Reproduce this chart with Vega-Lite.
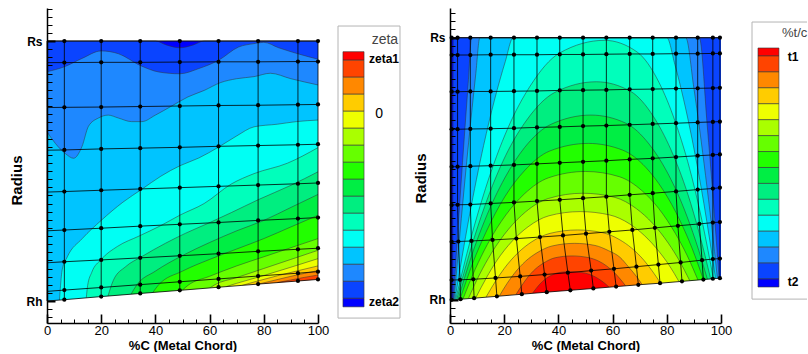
{
"$schema": "https://vega.github.io/schema/vega-lite/v6.json",
"background": "white",
"padding": {"left": 9, "top": 2, "right": 0, "bottom": 0},
"config": {"view": {"stroke": null}, "font": "Liberation Sans"},
"datasets": {
"hub": [{"x":0,"y":0},{"x":100,"y":0.083}],
"contL": [
{"l":"a","x":0,"y":1},{"l":"a","x":100,"y":1},
{"l":"b","x":0,"y":1},{"l":"b","x":40,"y":1},{"l":"b","x":44,"y":0.985},{"l":"b","x":49,"y":0.974},{"l":"b","x":54,"y":0.985},{"l":"b","x":58,"y":1},{"l":"b","x":100,"y":1},
{"l":"c","x":0,"y":0.882},{"l":"c","x":6.4,"y":0.901},{"l":"c","x":12.9,"y":0.933},{"l":"c","x":20,"y":0.962},{"l":"c","x":26.4,"y":0.951},{"l":"c","x":34.4,"y":0.906},{"l":"c","x":41.2,"y":0.881},{"l":"c","x":49,"y":0.874},{"l":"c","x":56,"y":0.894},{"l":"c","x":63.3,"y":0.926},{"l":"c","x":70.7,"y":0.977},{"l":"c","x":76.4,"y":0.99},{"l":"c","x":80,"y":0.995},{"l":"c","x":85.5,"y":0.974},{"l":"c","x":92.9,"y":0.95},{"l":"c","x":100,"y":0.93},
{"l":"d","x":0,"y":0.651},{"l":"d","x":3.1,"y":0.606},{"l":"d","x":6.8,"y":0.567},{"l":"d","x":9.8,"y":0.549},{"l":"d","x":12.9,"y":0.594},{"l":"d","x":15.3,"y":0.672},{"l":"d","x":19,"y":0.704},{"l":"d","x":22.6,"y":0.715},{"l":"d","x":26.3,"y":0.704},{"l":"d","x":31.2,"y":0.69},{"l":"d","x":35,"y":0.69},{"l":"d","x":40,"y":0.715},{"l":"d","x":46,"y":0.75},{"l":"d","x":52,"y":0.785},{"l":"d","x":58,"y":0.81},{"l":"d","x":64,"y":0.84},{"l":"d","x":70,"y":0.855},{"l":"d","x":76.4,"y":0.863},{"l":"d","x":82.4,"y":0.876},{"l":"d","x":90,"y":0.855},{"l":"d","x":100,"y":0.831},
{"l":"e","x":4.6,"y":0.004},{"l":"e","x":5,"y":0.06},{"l":"e","x":5.6,"y":0.12},{"l":"e","x":7.5,"y":0.17},{"l":"e","x":13,"y":0.24},{"l":"e","x":20,"y":0.31},{"l":"e","x":28,"y":0.38},{"l":"e","x":35,"y":0.43},{"l":"e","x":42,"y":0.48},{"l":"e","x":49,"y":0.52},{"l":"e","x":56,"y":0.55},{"l":"e","x":63,"y":0.59},{"l":"e","x":70,"y":0.635},{"l":"e","x":76.4,"y":0.67},{"l":"e","x":85,"y":0.68},{"l":"e","x":92,"y":0.69},{"l":"e","x":100,"y":0.696},
{"l":"f","x":14.5,"y":0.012},{"l":"f","x":15,"y":0.06},{"l":"f","x":16.5,"y":0.11},{"l":"f","x":20,"y":0.16},{"l":"f","x":26,"y":0.21},{"l":"f","x":34,"y":0.25},{"l":"f","x":42,"y":0.29},{"l":"f","x":49,"y":0.33},{"l":"f","x":58,"y":0.375},{"l":"f","x":68,"y":0.45},{"l":"f","x":76.4,"y":0.49},{"l":"f","x":88.7,"y":0.53},{"l":"f","x":100,"y":0.59},
{"l":"g","x":22.5,"y":0.019},{"l":"g","x":24.5,"y":0.08},{"l":"g","x":29,"y":0.132},{"l":"g","x":35,"y":0.171},{"l":"g","x":43.7,"y":0.222},{"l":"g","x":51,"y":0.26},{"l":"g","x":59.7,"y":0.3},{"l":"g","x":68,"y":0.34},{"l":"g","x":78,"y":0.39},{"l":"g","x":90,"y":0.445},{"l":"g","x":100,"y":0.497},
{"l":"h","x":31,"y":0.026},{"l":"h","x":33,"y":0.06},{"l":"h","x":40,"y":0.115},{"l":"h","x":50,"y":0.175},{"l":"h","x":60,"y":0.225},{"l":"h","x":70,"y":0.27},{"l":"h","x":80,"y":0.31},{"l":"h","x":90,"y":0.36},{"l":"h","x":100,"y":0.41},
{"l":"i","x":39,"y":0.032},{"l":"i","x":41,"y":0.06},{"l":"i","x":50,"y":0.115},{"l":"i","x":60,"y":0.16},{"l":"i","x":70,"y":0.2},{"l":"i","x":80,"y":0.24},{"l":"i","x":90,"y":0.285},{"l":"i","x":100,"y":0.33},
{"l":"j","x":50,"y":0.042},{"l":"j","x":52,"y":0.06},{"l":"j","x":60,"y":0.095},{"l":"j","x":70,"y":0.135},{"l":"j","x":80,"y":0.17},{"l":"j","x":90,"y":0.205},{"l":"j","x":100,"y":0.24},
{"l":"k","x":60,"y":0.05},{"l":"k","x":62,"y":0.063},{"l":"k","x":70,"y":0.09},{"l":"k","x":80,"y":0.125},{"l":"k","x":90,"y":0.16},{"l":"k","x":100,"y":0.195},
{"l":"l","x":66,"y":0.055},{"l":"l","x":70,"y":0.068},{"l":"l","x":80,"y":0.098},{"l":"l","x":90,"y":0.13},{"l":"l","x":100,"y":0.163},
{"l":"m","x":72,"y":0.06},{"l":"m","x":76,"y":0.072},{"l":"m","x":85,"y":0.097},{"l":"m","x":92,"y":0.115},{"l":"m","x":100,"y":0.135},
{"l":"n","x":78,"y":0.065},{"l":"n","x":82,"y":0.075},{"l":"n","x":90,"y":0.095},{"l":"n","x":100,"y":0.117},
{"l":"o","x":85,"y":0.071},{"l":"o","x":90,"y":0.081},{"l":"o","x":95,"y":0.091},{"l":"o","x":100,"y":0.1}
],
"contR": [
{"l":"a","x":0,"y":1},{"l":"a","x":100,"y":1},
{"l":"b","x":1.0,"y":0.001},{"l":"b","x":1.1,"y":0.5},{"l":"b","x":1.2,"y":1},{"l":"b","x":100,"y":1},
{"l":"c","x":1.25,"y":0.001},{"l":"c","x":3.94,"y":0.423},{"l":"c","x":6.63,"y":0.813},{"l":"c","x":8,"y":1},{"l":"c","x":92,"y":1},{"l":"c","x":94.9,"y":0.668},{"l":"c","x":97.1,"y":0.387},{"l":"c","x":99.3,"y":0.082},
{"l":"d","x":1.5,"y":0.001},{"l":"d","x":4.18,"y":0.311},{"l":"d","x":6.85,"y":0.599},{"l":"d","x":9.53,"y":0.864},{"l":"d","x":11,"y":1},{"l":"d","x":87,"y":1},{"l":"d","x":90,"y":0.807},{"l":"d","x":94.3,"y":0.475},{"l":"d","x":96.5,"y":0.286},{"l":"d","x":98.7,"y":0.082},
{"l":"e","x":1.8,"y":0.001},{"l":"e","x":7.12,"y":0.319},{"l":"e","x":12.4,"y":0.589},{"l":"e","x":20.4,"y":0.909},{"l":"e","x":23.3,"y":1},{"l":"e","x":80,"y":1},{"l":"e","x":83,"y":0.897},{"l":"e","x":89.4,"y":0.61},{"l":"e","x":93.7,"y":0.367},{"l":"e","x":98,"y":0.081},
{"l":"f","x":2.1,"y":0.002},{"l":"f","x":7.6,"y":0.231},{"l":"f","x":13.1,"y":0.425},{"l":"f","x":21.3,"y":0.654},{"l":"f","x":29.6,"y":0.816},{"l":"f","x":40.5,"y":0.942},{"l":"f","x":57,"y":0.99},{"l":"f","x":69.1,"y":0.945},{"l":"f","x":77.1,"y":0.83},{"l":"f","x":83.1,"y":0.68},{"l":"f","x":89.2,"y":0.47},{"l":"f","x":93.2,"y":0.292},{"l":"f","x":97.2,"y":0.081},
{"l":"g","x":2.5,"y":0.002},{"l":"g","x":7.65,"y":0.194},{"l":"g","x":12.8,"y":0.357},{"l":"g","x":20.5,"y":0.55},{"l":"g","x":28.3,"y":0.686},{"l":"g","x":38.6,"y":0.791},{"l":"g","x":54,"y":0.832},{"l":"g","x":66.7,"y":0.795},{"l":"g","x":75.1,"y":0.699},{"l":"g","x":81.4,"y":0.576},{"l":"g","x":87.8,"y":0.402},{"l":"g","x":92,"y":0.254},{"l":"g","x":96.2,"y":0.08},
{"l":"h","x":3,"y":0.002},{"l":"h","x":7.9,"y":0.167},{"l":"h","x":12.8,"y":0.303},{"l":"h","x":20.2,"y":0.465},{"l":"h","x":27.5,"y":0.581},{"l":"h","x":37.3,"y":0.67},{"l":"h","x":52,"y":0.705},{"l":"h","x":64.9,"y":0.674},{"l":"h","x":73.5,"y":0.594},{"l":"h","x":79.9,"y":0.492},{"l":"h","x":86.4,"y":0.347},{"l":"h","x":90.7,"y":0.224},{"l":"h","x":95,"y":0.079},
{"l":"i","x":3.7,"y":0.003},{"l":"i","x":8.4,"y":0.141},{"l":"i","x":13.2,"y":0.257},{"l":"i","x":20.3,"y":0.395},{"l":"i","x":27.4,"y":0.492},{"l":"i","x":36.8,"y":0.568},{"l":"i","x":51,"y":0.597},{"l":"i","x":63.8,"y":0.571},{"l":"i","x":72.3,"y":0.505},{"l":"i","x":78.6,"y":0.42},{"l":"i","x":85,"y":0.3},{"l":"i","x":89.3,"y":0.198},{"l":"i","x":93.5,"y":0.078},
{"l":"j","x":4.8,"y":0.004},{"l":"j","x":9.3,"y":0.117},{"l":"j","x":13.8,"y":0.212},{"l":"j","x":20.6,"y":0.324},{"l":"j","x":27.4,"y":0.404},{"l":"j","x":36.4,"y":0.466},{"l":"j","x":50,"y":0.49},{"l":"j","x":62.5,"y":0.47},{"l":"j","x":70.8,"y":0.417},{"l":"j","x":77,"y":0.349},{"l":"j","x":83.2,"y":0.253},{"l":"j","x":87.4,"y":0.172},{"l":"j","x":91.5,"y":0.076},
{"l":"k","x":6.8,"y":0.006},{"l":"k","x":11,"y":0.099},{"l":"k","x":15.2,"y":0.177},{"l":"k","x":21.6,"y":0.27},{"l":"k","x":27.9,"y":0.336},{"l":"k","x":36.3,"y":0.387},{"l":"k","x":49,"y":0.407},{"l":"k","x":60.9,"y":0.391},{"l":"k","x":68.8,"y":0.348},{"l":"k","x":74.7,"y":0.293},{"l":"k","x":80.6,"y":0.216},{"l":"k","x":84.6,"y":0.15},{"l":"k","x":88.5,"y":0.073},
{"l":"l","x":9.5,"y":0.008},{"l":"l","x":13.4,"y":0.084},{"l":"l","x":17.2,"y":0.149},{"l":"l","x":23,"y":0.225},{"l":"l","x":28.8,"y":0.279},{"l":"l","x":36.5,"y":0.321},{"l":"l","x":48,"y":0.337},{"l":"l","x":59,"y":0.324},{"l":"l","x":66.3,"y":0.29},{"l":"l","x":71.7,"y":0.246},{"l":"l","x":77.2,"y":0.184},{"l":"l","x":80.9,"y":0.132},{"l":"l","x":84.5,"y":0.07},
{"l":"m","x":13.3,"y":0.011},{"l":"m","x":16.7,"y":0.07},{"l":"m","x":20,"y":0.12},{"l":"m","x":25.1,"y":0.18},{"l":"m","x":30.2,"y":0.222},{"l":"m","x":36.9,"y":0.254},{"l":"m","x":47,"y":0.267},{"l":"m","x":56.2,"y":0.257},{"l":"m","x":62.4,"y":0.231},{"l":"m","x":67,"y":0.198},{"l":"m","x":71.6,"y":0.151},{"l":"m","x":74.6,"y":0.111},{"l":"m","x":77.7,"y":0.064},
{"l":"n","x":18.2,"y":0.015},{"l":"n","x":21,"y":0.062},{"l":"n","x":23.7,"y":0.101},{"l":"n","x":27.9,"y":0.148},{"l":"n","x":32.1,"y":0.18},{"l":"n","x":37.7,"y":0.206},{"l":"n","x":46,"y":0.216},{"l":"n","x":53.5,"y":0.208},{"l":"n","x":58.5,"y":0.188},{"l":"n","x":62.7,"y":0.163},{"l":"n","x":65.9,"y":0.126},{"l":"n","x":68.4,"y":0.095},{"l":"n","x":70.9,"y":0.059},
{"l":"o","x":24.3,"y":0.02},{"l":"o","x":26.4,"y":0.054},{"l":"o","x":28.4,"y":0.083},{"l":"o","x":31.5,"y":0.118},{"l":"o","x":34.7,"y":0.142},{"l":"o","x":38.8,"y":0.161},{"l":"o","x":45,"y":0.168},{"l":"o","x":50.9,"y":0.162},{"l":"o","x":54.9,"y":0.148},{"l":"o","x":57.9,"y":0.129},{"l":"o","x":60.8,"y":0.103},{"l":"o","x":62.8,"y":0.08},{"l":"o","x":64.8,"y":0.054},
{"l":"p","x":30.4,"y":0.025},{"l":"p","x":31.8,"y":0.044},{"l":"p","x":33.1,"y":0.06},{"l":"p","x":35.2,"y":0.08},{"l":"p","x":37.2,"y":0.093},{"l":"p","x":39.9,"y":0.104},{"l":"p","x":44,"y":0.108},{"l":"p","x":48.4,"y":0.105},{"l":"p","x":51.4,"y":0.098},{"l":"p","x":53.6,"y":0.088},{"l":"p","x":55.8,"y":0.074},{"l":"p","x":57.2,"y":0.063},{"l":"p","x":58.7,"y":0.049}
],
"meshL": [
{"r":1,"c":0,"x":0,"y":0},{"r":1,"c":1,"x":6.4,"y":0.005},{"r":1,"c":2,"x":20,"y":0.017},{"r":1,"c":3,"x":34.4,"y":0.029},{"r":1,"c":4,"x":49,"y":0.041},{"r":1,"c":5,"x":63.3,"y":0.053},{"r":1,"c":6,"x":77.9,"y":0.065},{"r":1,"c":7,"x":92.6,"y":0.077},{"r":1,"c":8,"x":100,"y":0.083},
{"r":2,"c":0,"x":0,"y":0.037},{"r":2,"c":1,"x":6.4,"y":0.042},{"r":2,"c":2,"x":20,"y":0.052},{"r":2,"c":3,"x":34.4,"y":0.063},{"r":2,"c":4,"x":49,"y":0.074},{"r":2,"c":5,"x":63.3,"y":0.085},{"r":2,"c":6,"x":77.9,"y":0.096},{"r":2,"c":7,"x":92.6,"y":0.107},{"r":2,"c":8,"x":100,"y":0.113},
{"r":3,"c":0,"x":0,"y":0.147},{"r":3,"c":1,"x":6.4,"y":0.151},{"r":3,"c":2,"x":20,"y":0.158},{"r":3,"c":3,"x":34.4,"y":0.166},{"r":3,"c":4,"x":49,"y":0.174},{"r":3,"c":5,"x":63.3,"y":0.182},{"r":3,"c":6,"x":77.9,"y":0.191},{"r":3,"c":7,"x":92.6,"y":0.199},{"r":3,"c":8,"x":100,"y":0.203},
{"r":4,"c":0,"x":0,"y":0.27},{"r":4,"c":1,"x":6.4,"y":0.273},{"r":4,"c":2,"x":20,"y":0.28},{"r":4,"c":3,"x":34.4,"y":0.288},{"r":4,"c":4,"x":49,"y":0.295},{"r":4,"c":5,"x":63.3,"y":0.302},{"r":4,"c":6,"x":77.9,"y":0.31},{"r":4,"c":7,"x":92.6,"y":0.317},{"r":4,"c":8,"x":100,"y":0.321},
{"r":5,"c":0,"x":0,"y":0.419},{"r":5,"c":1,"x":6.4,"y":0.421},{"r":5,"c":2,"x":20,"y":0.426},{"r":5,"c":3,"x":34.4,"y":0.431},{"r":5,"c":4,"x":49,"y":0.436},{"r":5,"c":5,"x":63.3,"y":0.441},{"r":5,"c":6,"x":77.9,"y":0.446},{"r":5,"c":7,"x":92.6,"y":0.451},{"r":5,"c":8,"x":100,"y":0.454},
{"r":6,"c":0,"x":0,"y":0.58},{"r":6,"c":1,"x":6.4,"y":0.581},{"r":6,"c":2,"x":20,"y":0.585},{"r":6,"c":3,"x":34.4,"y":0.588},{"r":6,"c":4,"x":49,"y":0.591},{"r":6,"c":5,"x":63.3,"y":0.595},{"r":6,"c":6,"x":77.9,"y":0.598},{"r":6,"c":7,"x":92.6,"y":0.601},{"r":6,"c":8,"x":100,"y":0.603},
{"r":7,"c":0,"x":0,"y":0.744},{"r":7,"c":1,"x":6.4,"y":0.745},{"r":7,"c":2,"x":20,"y":0.746},{"r":7,"c":3,"x":34.4,"y":0.748},{"r":7,"c":4,"x":49,"y":0.75},{"r":7,"c":5,"x":63.3,"y":0.752},{"r":7,"c":6,"x":77.9,"y":0.753},{"r":7,"c":7,"x":92.6,"y":0.755},{"r":7,"c":8,"x":100,"y":0.756},
{"r":8,"c":0,"x":0,"y":0.917},{"r":8,"c":1,"x":6.4,"y":0.917},{"r":8,"c":2,"x":20,"y":0.918},{"r":8,"c":3,"x":34.4,"y":0.918},{"r":8,"c":4,"x":49,"y":0.919},{"r":8,"c":5,"x":63.3,"y":0.92},{"r":8,"c":6,"x":77.9,"y":0.92},{"r":8,"c":7,"x":92.6,"y":0.921},{"r":8,"c":8,"x":100,"y":0.921},
{"r":9,"c":0,"x":0,"y":1},{"r":9,"c":1,"x":6.4,"y":1},{"r":9,"c":2,"x":20,"y":1},{"r":9,"c":3,"x":34.4,"y":1},{"r":9,"c":4,"x":49,"y":1},{"r":9,"c":5,"x":63.3,"y":1},{"r":9,"c":6,"x":77.9,"y":1},{"r":9,"c":7,"x":92.6,"y":1},{"r":9,"c":8,"x":100,"y":1}
],
"meshR": [
{"r":1,"c":1,"x":0.6,"y":0.0005},{"r":1,"c":2,"x":3.9,"y":0.003},{"r":1,"c":3,"x":8.9,"y":0.007},{"r":1,"c":4,"x":17.3,"y":0.014},{"r":1,"c":5,"x":26.5,"y":0.022},{"r":1,"c":6,"x":35.7,"y":0.03},{"r":1,"c":7,"x":44.4,"y":0.037},{"r":1,"c":8,"x":52.9,"y":0.044},{"r":1,"c":9,"x":61.3,"y":0.051},{"r":1,"c":10,"x":69.5,"y":0.058},{"r":1,"c":11,"x":77.5,"y":0.064},{"r":1,"c":12,"x":85.6,"y":0.071},{"r":1,"c":13,"x":93.5,"y":0.078},{"r":1,"c":14,"x":97,"y":0.081},{"r":1,"c":15,"x":99.6,"y":0.083},
{"r":2,"c":1,"x":0.6,"y":0.076},{"r":2,"c":2,"x":3.7,"y":0.077},{"r":2,"c":3,"x":8.6,"y":0.079},{"r":2,"c":4,"x":16.8,"y":0.084},{"r":2,"c":5,"x":25.9,"y":0.09},{"r":2,"c":6,"x":34.9,"y":0.097},{"r":2,"c":7,"x":43.5,"y":0.104},{"r":2,"c":8,"x":52.1,"y":0.112},{"r":2,"c":9,"x":60.5,"y":0.119},{"r":2,"c":10,"x":68.8,"y":0.127},{"r":2,"c":11,"x":76.9,"y":0.135},{"r":2,"c":12,"x":85.1,"y":0.143},{"r":2,"c":13,"x":93,"y":0.152},{"r":2,"c":14,"x":97,"y":0.156},{"r":2,"c":15,"x":99.6,"y":0.158},
{"r":3,"c":1,"x":0.6,"y":0.222},{"r":3,"c":2,"x":3.1,"y":0.223},{"r":3,"c":3,"x":7.9,"y":0.225},{"r":3,"c":4,"x":15.7,"y":0.229},{"r":3,"c":5,"x":24.5,"y":0.234},{"r":3,"c":6,"x":33.2,"y":0.24},{"r":3,"c":7,"x":41.7,"y":0.246},{"r":3,"c":8,"x":50.2,"y":0.253},{"r":3,"c":9,"x":58.8,"y":0.26},{"r":3,"c":10,"x":67.3,"y":0.267},{"r":3,"c":11,"x":75.6,"y":0.275},{"r":3,"c":12,"x":84.1,"y":0.283},{"r":3,"c":13,"x":92,"y":0.29},{"r":3,"c":14,"x":97,"y":0.295},{"r":3,"c":15,"x":99.6,"y":0.297},
{"r":4,"c":1,"x":0.6,"y":0.362},{"r":4,"c":2,"x":2.8,"y":0.363},{"r":4,"c":3,"x":7.5,"y":0.364},{"r":4,"c":4,"x":15,"y":0.368},{"r":4,"c":5,"x":23.6,"y":0.372},{"r":4,"c":6,"x":32.1,"y":0.377},{"r":4,"c":7,"x":40.5,"y":0.382},{"r":4,"c":8,"x":49.1,"y":0.388},{"r":4,"c":9,"x":57.7,"y":0.394},{"r":4,"c":10,"x":66.3,"y":0.401},{"r":4,"c":11,"x":74.8,"y":0.407},{"r":4,"c":12,"x":83.4,"y":0.414},{"r":4,"c":13,"x":91.4,"y":0.421},{"r":4,"c":14,"x":97,"y":0.425},{"r":4,"c":15,"x":99.6,"y":0.428},
{"r":5,"c":1,"x":0.6,"y":0.508},{"r":5,"c":2,"x":2.8,"y":0.508},{"r":5,"c":3,"x":7.5,"y":0.51},{"r":5,"c":4,"x":15,"y":0.512},{"r":5,"c":5,"x":23.6,"y":0.515},{"r":5,"c":6,"x":32.1,"y":0.519},{"r":5,"c":7,"x":40.5,"y":0.523},{"r":5,"c":8,"x":49.1,"y":0.527},{"r":5,"c":9,"x":57.7,"y":0.531},{"r":5,"c":10,"x":66.3,"y":0.536},{"r":5,"c":11,"x":74.8,"y":0.54},{"r":5,"c":12,"x":83.4,"y":0.545},{"r":5,"c":13,"x":91.4,"y":0.55},{"r":5,"c":14,"x":97,"y":0.553},{"r":5,"c":15,"x":99.6,"y":0.555},
{"r":6,"c":1,"x":0.6,"y":0.651},{"r":6,"c":2,"x":2.8,"y":0.651},{"r":6,"c":3,"x":7.5,"y":0.652},{"r":6,"c":4,"x":15,"y":0.653},{"r":6,"c":5,"x":23.6,"y":0.655},{"r":6,"c":6,"x":32.1,"y":0.658},{"r":6,"c":7,"x":40.5,"y":0.66},{"r":6,"c":8,"x":49.1,"y":0.663},{"r":6,"c":9,"x":57.7,"y":0.665},{"r":6,"c":10,"x":66.3,"y":0.668},{"r":6,"c":11,"x":74.8,"y":0.671},{"r":6,"c":12,"x":83.4,"y":0.674},{"r":6,"c":13,"x":91.4,"y":0.677},{"r":6,"c":14,"x":97,"y":0.679},{"r":6,"c":15,"x":99.6,"y":0.68},
{"r":7,"c":1,"x":0.6,"y":0.794},{"r":7,"c":2,"x":2.8,"y":0.794},{"r":7,"c":3,"x":7.5,"y":0.795},{"r":7,"c":4,"x":15,"y":0.795},{"r":7,"c":5,"x":23.6,"y":0.796},{"r":7,"c":6,"x":32.1,"y":0.797},{"r":7,"c":7,"x":40.5,"y":0.799},{"r":7,"c":8,"x":49.1,"y":0.8},{"r":7,"c":9,"x":57.7,"y":0.801},{"r":7,"c":10,"x":66.3,"y":0.803},{"r":7,"c":11,"x":74.8,"y":0.804},{"r":7,"c":12,"x":83.4,"y":0.806},{"r":7,"c":13,"x":91.4,"y":0.807},{"r":7,"c":14,"x":97,"y":0.808},{"r":7,"c":15,"x":99.6,"y":0.809},
{"r":8,"c":1,"x":0.6,"y":0.934},{"r":8,"c":2,"x":2.8,"y":0.934},{"r":8,"c":3,"x":7.5,"y":0.934},{"r":8,"c":4,"x":15,"y":0.935},{"r":8,"c":5,"x":23.6,"y":0.935},{"r":8,"c":6,"x":32.1,"y":0.935},{"r":8,"c":7,"x":40.5,"y":0.936},{"r":8,"c":8,"x":49.1,"y":0.936},{"r":8,"c":9,"x":57.7,"y":0.937},{"r":8,"c":10,"x":66.3,"y":0.938},{"r":8,"c":11,"x":74.8,"y":0.938},{"r":8,"c":12,"x":83.4,"y":0.939},{"r":8,"c":13,"x":91.4,"y":0.939},{"r":8,"c":14,"x":97,"y":0.94},{"r":8,"c":15,"x":99.6,"y":0.94},
{"r":9,"c":1,"x":0.6,"y":1},{"r":9,"c":2,"x":2.8,"y":1},{"r":9,"c":3,"x":7.5,"y":1},{"r":9,"c":4,"x":15,"y":1},{"r":9,"c":5,"x":23.6,"y":1},{"r":9,"c":6,"x":32.1,"y":1},{"r":9,"c":7,"x":40.5,"y":1},{"r":9,"c":8,"x":49.1,"y":1},{"r":9,"c":9,"x":57.7,"y":1},{"r":9,"c":10,"x":66.3,"y":1},{"r":9,"c":11,"x":74.8,"y":1},{"r":9,"c":12,"x":83.4,"y":1},{"r":9,"c":13,"x":91.4,"y":1},{"r":9,"c":14,"x":97,"y":1},{"r":9,"c":15,"x":99.6,"y":1}
],
"leg": [
{"l":"p","lo":0,"hi":0.5},{"l":"o","lo":0.5,"hi":1.5},{"l":"n","lo":1.5,"hi":2.5},{"l":"m","lo":2.5,"hi":3.5},{"l":"l","lo":3.5,"hi":4.5},{"l":"k","lo":4.5,"hi":5.5},{"l":"j","lo":5.5,"hi":6.5},{"l":"i","lo":6.5,"hi":7.5},{"l":"h","lo":7.5,"hi":8.5},{"l":"g","lo":8.5,"hi":9.5},{"l":"f","lo":9.5,"hi":10.5},{"l":"e","lo":10.5,"hi":11.5},{"l":"d","lo":11.5,"hi":12.5},{"l":"c","lo":12.5,"hi":13.5},{"l":"b","lo":13.5,"hi":14.5},{"l":"a","lo":14.5,"hi":15}
]
},
"spacing": 20,
"bounds": "flush",
"hconcat": [
{
"width": 271, "height": 315,
"encoding": {
"x": {"field": "x", "type": "quantitative", "scale": {"domain": [0, 100], "nice": false, "zero": false},
 "axis": {"title": "%C (Metal Chord)", "values": [0,5,10,15,20,25,30,35,40,45,50,55,60,65,70,75,80,85,90,95,100], "labelExpr": "datum.value % 20 == 0 ? datum.label : ''", "labelFlush": false, "labelOverlap": false, "grid": false, "zindex": 1, "domainColor": "black", "domainWidth": 1.5, "tickColor": "black", "tickSize": {"condition": {"test": "datum.value % 20 == 0", "value": -9}, "value": -4}, "tickWidth": {"condition": {"test": "datum.value % 20 == 0", "value": 1.6}, "value": 1}, "labelFontSize": 13, "labelColor": "black", "labelPadding": 10, "titleFontSize": 13, "titleFontWeight": "bold", "titleColor": "black", "titleY": 22, "titleBaseline": "middle"}},
"y": {"field": "y", "type": "quantitative", "stack": null, "scale": {"domain": [-0.0846, 1.127], "nice": false, "zero": false},
 "axis": {"title": "Radius", "values": [-0.0625,-0.03125,0,0.03125,0.0625,0.09375,0.125,0.15625,0.1875,0.21875,0.25,0.28125,0.3125,0.34375,0.375,0.40625,0.4375,0.46875,0.5,0.53125,0.5625,0.59375,0.625,0.65625,0.6875,0.71875,0.75,0.78125,0.8125,0.84375,0.875,0.90625,0.9375,0.96875,1,1.03125,1.0625,1.09375,1.125], "labelExpr": "datum.value == 1 ? 'Rs' : (datum.value == 0 ? 'Rh' : '')", "labelOverlap": false, "grid": false, "zindex": 1, "domainColor": "black", "domainWidth": 1.5, "tickColor": "black", "tickSize": {"condition": {"test": "datum.value == 0 || datum.value == 1", "value": -8}, "value": -5}, "tickWidth": {"condition": {"test": "datum.value == 0 || datum.value == 1", "value": 2}, "value": 1}, "labelFontSize": 12, "labelFontWeight": "bold", "labelColor": "black", "labelPadding": 13, "titleFontSize": 15, "titleFontWeight": "bold", "titleColor": "black", "titleX": -31, "titleY": 172, "titleAngle": 270, "titleBaseline": "middle", "titleAlign": "center"}}
},
"layer": [
{"data": {"name": "contL"}, "mark": {"type": "area", "interpolate": "monotone"},
 "encoding": {"y2": {"datum": 0}, "color": {"field": "l", "type": "nominal", "legend": null, "scale": {"domain": ["a","b","c","d","e","f","g","h","i","j","k","l","m","n","o","p"], "range": ["#0000FF","#0A44FF","#1E88FF","#00C4FF","#00FFF4","#00FFBB","#00EE80","#00EE44","#22FF00","#66FF00","#AAFF00","#EEFF00","#FFCC00","#FF8800","#FF4400","#FF0000"]}}}},
{"data": {"name": "contL"}, "mark": {"type": "line", "interpolate": "monotone", "color": "#333333", "strokeWidth": 0.5},
 "encoding": {"detail": {"field": "l", "type": "nominal"}}},
{"data": {"name": "hub"}, "mark": {"type": "area", "color": "white"},
 "encoding": {"y2": {"datum": -0.01}}},
{"data": {"name": "meshL"}, "mark": {"type": "line", "color": "black", "strokeWidth": 0.8},
 "encoding": {"detail": {"field": "r", "type": "nominal"}, "order": {"field": "c", "type": "quantitative"}}},
{"data": {"name": "meshL"}, "mark": {"type": "line", "color": "black", "strokeWidth": 0.8},
 "encoding": {"detail": {"field": "c", "type": "nominal"}, "order": {"field": "r", "type": "quantitative"}}},
{"data": {"name": "meshL"}, "transform": [{"filter": "datum.c > 0"}], "mark": {"type": "point", "filled": true, "size": 18, "color": "black", "opacity": 1},
 "encoding": {}}
]
},
{
"width": 92, "height": 315,
"layer": [
{"data": {"values": [{}]}, "mark": {"type": "rect", "fill": "white", "stroke": "#b4b4b4", "strokeWidth": 1},
 "encoding": {"x": {"datum": 0, "type": "quantitative", "scale": {"domain": [0, 1.4839], "nice": false, "zero": false}, "axis": null}, "x2": {"datum": 1},
  "y": {"datum": -1.51, "type": "quantitative", "scale": {"domain": [-2.57, 15.95], "reverse": true, "nice": false, "zero": false}, "axis": null}, "y2": {"datum": 15.66}}},
{"data": {"name": "leg"}, "mark": {"type": "rect", "stroke": "#333333", "strokeWidth": 0.6},
 "encoding": {"x": {"datum": 0.08, "type": "quantitative", "scale": {"domain": [0, 1.4839], "nice": false, "zero": false}, "axis": null}, "x2": {"datum": 0.42},
  "y": {"field": "lo", "type": "quantitative", "scale": {"domain": [-2.57, 15.95], "reverse": true, "nice": false, "zero": false}, "axis": null}, "y2": {"field": "hi"},
  "color": {"field": "l", "type": "nominal", "legend": null, "scale": {"domain": ["a","b","c","d","e","f","g","h","i","j","k","l","m","n","o","p"], "range": ["#0000FF","#0A44FF","#1E88FF","#00C4FF","#00FFF4","#00FFBB","#00EE80","#00EE44","#22FF00","#66FF00","#AAFF00","#EEFF00","#FFCC00","#FF8800","#FF4400","#FF0000"]}}}},
{"data": {"values": [{"t": "zeta1", "v": 0.45}, {"t": "zeta2", "v": 14.7}]}, "mark": {"type": "text", "align": "left", "baseline": "middle", "fontWeight": "bold", "fontSize": 12, "color": "black"},
 "encoding": {"x": {"datum": 0.5, "type": "quantitative", "scale": {"domain": [0, 1.4839], "nice": false, "zero": false}, "axis": null},
  "y": {"field": "v", "type": "quantitative", "scale": {"domain": [-2.57, 15.95], "reverse": true, "nice": false, "zero": false}, "axis": null}, "text": {"field": "t"}}},
{"data": {"values": [{"t": "0", "v": 3.65}]}, "mark": {"type": "text", "align": "left", "baseline": "middle", "fontSize": 14, "color": "black"},
 "encoding": {"x": {"datum": 0.6, "type": "quantitative", "scale": {"domain": [0, 1.4839], "nice": false, "zero": false}, "axis": null},
  "y": {"field": "v", "type": "quantitative", "scale": {"domain": [-2.57, 15.95], "reverse": true, "nice": false, "zero": false}, "axis": null}, "text": {"field": "t"}}},
{"data": {"values": [{"t": "zeta", "v": -0.69}]}, "mark": {"type": "text", "align": "right", "baseline": "middle", "fontSize": 14, "color": "#444444"},
 "encoding": {"x": {"datum": 0.97, "type": "quantitative", "scale": {"domain": [0, 1.4839], "nice": false, "zero": false}, "axis": null},
  "y": {"field": "v", "type": "quantitative", "scale": {"domain": [-2.57, 15.95], "reverse": true, "nice": false, "zero": false}, "axis": null}, "text": {"field": "t"}}}
]
},
{
"width": 271, "height": 315,
"encoding": {
"x": {"field": "x", "type": "quantitative", "scale": {"domain": [0, 100], "nice": false, "zero": false},
 "axis": {"title": "%C (Metal Chord)", "values": [0,5,10,15,20,25,30,35,40,45,50,55,60,65,70,75,80,85,90,95,100], "labelExpr": "datum.value % 20 == 0 ? datum.label : ''", "labelFlush": false, "labelOverlap": false, "grid": false, "zindex": 1, "domainColor": "black", "domainWidth": 1.5, "tickColor": "black", "tickSize": {"condition": {"test": "datum.value % 20 == 0", "value": -9}, "value": -4}, "tickWidth": {"condition": {"test": "datum.value % 20 == 0", "value": 1.6}, "value": 1}, "labelFontSize": 13, "labelColor": "black", "labelPadding": 10, "titleFontSize": 13, "titleFontWeight": "bold", "titleColor": "black", "titleY": 22, "titleBaseline": "middle"}},
"y": {"field": "y", "type": "quantitative", "stack": null, "scale": {"domain": [-0.0877, 1.1132], "nice": false, "zero": false},
 "axis": {"title": "Radius", "values": [-0.0625,-0.03125,0,0.03125,0.0625,0.09375,0.125,0.15625,0.1875,0.21875,0.25,0.28125,0.3125,0.34375,0.375,0.40625,0.4375,0.46875,0.5,0.53125,0.5625,0.59375,0.625,0.65625,0.6875,0.71875,0.75,0.78125,0.8125,0.84375,0.875,0.90625,0.9375,0.96875,1,1.03125,1.0625,1.09375], "labelExpr": "datum.value == 1 ? 'Rs' : (datum.value == 0 ? 'Rh' : '')", "labelOverlap": false, "grid": false, "zindex": 1, "domainColor": "black", "domainWidth": 1.5, "tickColor": "black", "tickSize": {"condition": {"test": "datum.value == 0 || datum.value == 1", "value": -8}, "value": -5}, "tickWidth": {"condition": {"test": "datum.value == 0 || datum.value == 1", "value": 2}, "value": 1}, "labelFontSize": 12, "labelFontWeight": "bold", "labelColor": "black", "labelPadding": 13, "titleFontSize": 15, "titleFontWeight": "bold", "titleColor": "black", "titleX": -30, "titleY": 170, "titleAngle": 270, "titleBaseline": "middle", "titleAlign": "center"}}
},
"layer": [
{"data": {"name": "contR"}, "mark": {"type": "area", "interpolate": "monotone"},
 "encoding": {"y2": {"datum": 0}, "color": {"field": "l", "type": "nominal", "legend": null, "scale": {"domain": ["a","b","c","d","e","f","g","h","i","j","k","l","m","n","o","p"], "range": ["#0000FF","#0A44FF","#1E88FF","#00C4FF","#00FFF4","#00FFBB","#00EE80","#00EE44","#22FF00","#66FF00","#AAFF00","#EEFF00","#FFCC00","#FF8800","#FF4400","#FF0000"]}}}},
{"data": {"name": "contR"}, "mark": {"type": "line", "interpolate": "monotone", "color": "#333333", "strokeWidth": 0.5},
 "encoding": {"detail": {"field": "l", "type": "nominal"}}},
{"data": {"name": "hub"}, "mark": {"type": "area", "color": "white"},
 "encoding": {"y2": {"datum": -0.01}}},
{"data": {"name": "meshR"}, "mark": {"type": "line", "color": "black", "strokeWidth": 0.8},
 "encoding": {"detail": {"field": "r", "type": "nominal"}, "order": {"field": "c", "type": "quantitative"}}},
{"data": {"name": "meshR"}, "mark": {"type": "line", "color": "black", "strokeWidth": 0.8},
 "encoding": {"detail": {"field": "c", "type": "nominal"}, "order": {"field": "r", "type": "quantitative"}}},
{"data": {"name": "meshR"}, "mark": {"type": "point", "filled": true, "size": 18, "color": "black", "opacity": 1},
 "encoding": {}}
]
},
{
"width": 66, "height": 315,
"layer": [
{"data": {"values": [{}]}, "mark": {"type": "rule", "color": "#b4b4b4", "strokeWidth": 1},
 "encoding": {"x": {"datum": 0, "type": "quantitative", "scale": {"domain": [-0.2, 1], "nice": false, "zero": false}, "axis": null}, "x2": {"datum": 1},
  "y": {"datum": -1.63, "type": "quantitative", "scale": {"domain": [-2.51, 17.26], "reverse": true, "nice": false, "zero": false}, "axis": null}}},
{"data": {"values": [{}]}, "mark": {"type": "rule", "color": "#b4b4b4", "strokeWidth": 1},
 "encoding": {"x": {"datum": 0, "type": "quantitative", "scale": {"domain": [-0.2, 1], "nice": false, "zero": false}, "axis": null}, "x2": {"datum": 1},
  "y": {"datum": 15.76, "type": "quantitative", "scale": {"domain": [-2.51, 17.26], "reverse": true, "nice": false, "zero": false}, "axis": null}}},
{"data": {"values": [{}]}, "mark": {"type": "rule", "color": "#b4b4b4", "strokeWidth": 1},
 "encoding": {"x": {"datum": 0, "type": "quantitative", "scale": {"domain": [-0.2, 1], "nice": false, "zero": false}, "axis": null},
  "y": {"datum": -1.63, "type": "quantitative", "scale": {"domain": [-2.51, 17.26], "reverse": true, "nice": false, "zero": false}, "axis": null}, "y2": {"datum": 15.76}}},
{"data": {"name": "leg"}, "mark": {"type": "rect", "stroke": "#333333", "strokeWidth": 0.6},
 "encoding": {"x": {"datum": 0.109, "type": "quantitative", "scale": {"domain": [-0.2, 1], "nice": false, "zero": false}, "axis": null}, "x2": {"datum": 0.49},
  "y": {"field": "lo", "type": "quantitative", "scale": {"domain": [-2.51, 17.26], "reverse": true, "nice": false, "zero": false}, "axis": null}, "y2": {"field": "hi"},
  "color": {"field": "l", "type": "nominal", "legend": null, "scale": {"domain": ["a","b","c","d","e","f","g","h","i","j","k","l","m","n","o","p"], "range": ["#0000FF","#0A44FF","#1E88FF","#00C4FF","#00FFF4","#00FFBB","#00EE80","#00EE44","#22FF00","#66FF00","#AAFF00","#EEFF00","#FFCC00","#FF8800","#FF4400","#FF0000"]}}}},
{"data": {"values": [{"t": "t1", "v": 0.56}, {"t": "t2", "v": 14.7}]}, "mark": {"type": "text", "align": "left", "baseline": "middle", "fontWeight": "bold", "fontSize": 12, "color": "black"},
 "encoding": {"x": {"datum": 0.65, "type": "quantitative", "scale": {"domain": [-0.2, 1], "nice": false, "zero": false}, "axis": null},
  "y": {"field": "v", "type": "quantitative", "scale": {"domain": [-2.51, 17.26], "reverse": true, "nice": false, "zero": false}, "axis": null}, "text": {"field": "t"}}},
{"data": {"values": [{"t": "%t/c", "v": -0.94}]}, "mark": {"type": "text", "align": "left", "baseline": "middle", "fontSize": 13, "color": "#444444"},
 "encoding": {"x": {"datum": 0.545, "type": "quantitative", "scale": {"domain": [-0.2, 1], "nice": false, "zero": false}, "axis": null},
  "y": {"field": "v", "type": "quantitative", "scale": {"domain": [-2.51, 17.26], "reverse": true, "nice": false, "zero": false}, "axis": null}, "text": {"field": "t"}}}
]
}
]
}
